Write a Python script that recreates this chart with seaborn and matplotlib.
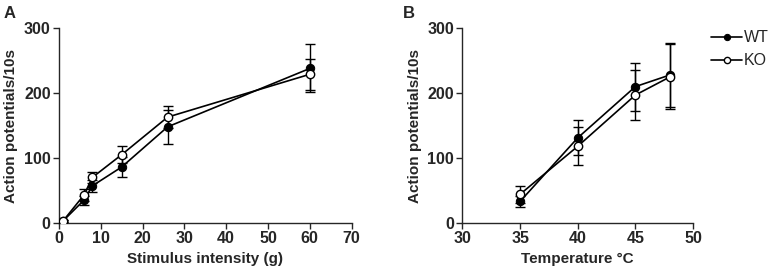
import seaborn as sns
import matplotlib.pyplot as plt
import pandas as pd

# panel A: stimulus intensity
force_g = [1, 6, 8, 15, 26, 60]
wt_force = [3, 35, 57, 86, 148, 238]
wt_force_err = [2, 7, 9, 16, 26, 37]
ko_force = [3, 43, 70, 105, 163, 229]
ko_force_err = [2, 9, 8, 13, 17, 24]

# panel B: temperature
temp_c = [35, 40, 45, 48]
wt_temp = [33, 131, 210, 228]
wt_temp_err = [8, 27, 37, 49]
ko_temp = [44, 118, 197, 225]
ko_temp_err = [13, 29, 38, 50]

sns.set_style("ticks")
plt.rcParams['font.family'] = ['Liberation Sans', 'DejaVu Sans']
plt.rcParams['font.weight'] = 'bold'

fig = plt.figure(figsize=(7.76, 2.72), dpi=100)
axA = fig.add_axes([0.076, 0.181, 0.377, 0.715])
axB = fig.add_axes([0.596, 0.181, 0.297, 0.715])


def draw(ax, x, wt, wt_err, ko, ko_err):
    df = pd.DataFrame({'x': x * 2, 'y': wt + ko,
                       'group': ['WT'] * len(x) + ['KO'] * len(x)})
    ax.errorbar(x, wt, yerr=wt_err, fmt='none', ecolor='black',
                elinewidth=1, capsize=3.5, capthick=1, zorder=1)
    ax.errorbar(x, ko, yerr=ko_err, fmt='none', ecolor='black',
                elinewidth=1, capsize=3.5, capthick=1, zorder=1)
    sns.lineplot(data=df[df.group == 'WT'], x='x', y='y', ax=ax, color='black',
                 marker='o', markersize=6, markerfacecolor='black',
                 markeredgecolor='black', linewidth=1.2, label='WT', zorder=3)
    sns.lineplot(data=df[df.group == 'KO'], x='x', y='y', ax=ax, color='black',
                 marker='o', markersize=6, markerfacecolor='white',
                 markeredgecolor='black', markeredgewidth=1, linewidth=1.2,
                 label='KO', zorder=4)
    ax.set_ylim(0, 300)
    ax.set_yticks([0, 100, 200, 300])
    ax.set_ylabel('Action potentials/10s', fontsize=11, fontweight='bold')
    sns.despine(ax=ax)
    for s in ['left', 'bottom']:
        ax.spines[s].set_linewidth(1)
    ax.tick_params(labelsize=11.5, width=1, length=4, pad=2)


draw(axA, force_g, wt_force, wt_force_err, ko_force, ko_force_err)
axA.set_xlim(0, 70)
axA.set_xticks(range(0, 71, 10))
axA.set_xlabel('Stimulus intensity (g)', fontsize=11, fontweight='bold')
axA.legend_.remove()

draw(axB, temp_c, wt_temp, wt_temp_err, ko_temp, ko_temp_err)
axB.set_xlim(30, 50)
axB.set_xticks(range(30, 51, 5))
axB.set_xlabel('Temperature °C', fontsize=11, fontweight='bold')
axB.legend(loc='upper left', bbox_to_anchor=(1.08, 0.99), frameon=False,
           handlelength=1.9, handletextpad=0.15, labelspacing=0.5,
           borderaxespad=0, borderpad=0, markerscale=0.75,
           prop={'size': 11.5, 'weight': 'normal'})

for ax in (axA, axB):
    for t in ax.get_xticklabels() + ax.get_yticklabels():
        t.set_fontweight('bold')

fig.text(0.005, 0.935, 'A', fontsize=12, fontweight='bold')
fig.text(0.519, 0.935, 'B', fontsize=12, fontweight='bold')

plt.savefig('out.png', dpi=100)
